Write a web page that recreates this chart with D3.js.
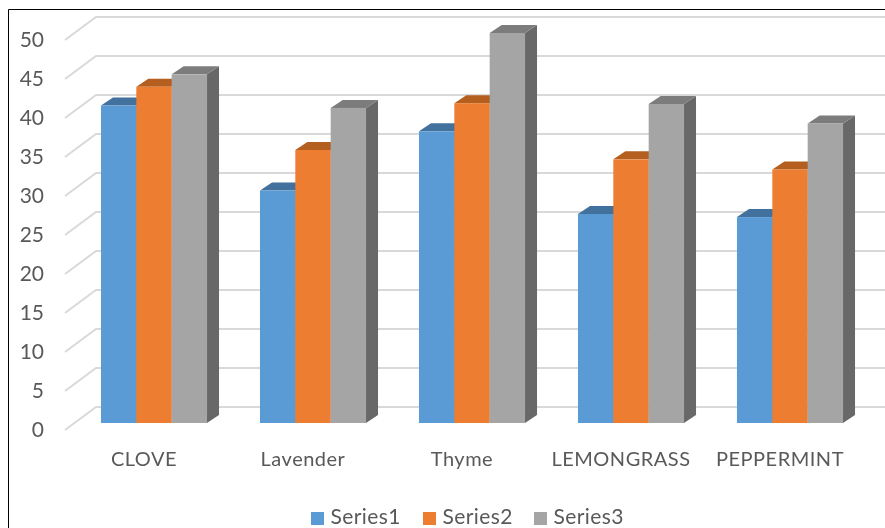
<!DOCTYPE html>
<html>
<head>
<meta charset="utf-8">
<script src="https://cdn.jsdelivr.net/npm/d3@7"></script>
<style>
  html, body { margin: 0; padding: 0; background: #fff; }
  svg { display: block; filter: blur(0.4px); }
  text { font-family: Lato, "Open Sans", sans-serif; fill: #595959; }
</style>
</head>
<body>
<script>
// data
const categories = ['CLOVE', 'Lavender', 'Thyme', 'LEMONGRASS', 'PEPPERMINT']
const seriesNames = ['Series1', 'Series2', 'Series3']
const series1 = [40.7, 29.8, 37.4, 26.8, 26.4]
const series2 = [43.1, 35, 41, 33.8, 32.5]
const series3 = [44.7, 40.4, 50, 40.9, 38.4]
const yTicks = [0, 5, 10, 15, 20, 25, 30, 35, 40, 45, 50]

const seriesValues = [series1, series2, series3]
const frontColors = ['#5b9bd5', '#ed7d31', '#a5a5a5']
const topColors = ['#41719c', '#b45f20', '#7c7c7c']
const sideColors = ['#3a6a94', '#9c5220', '#686868']

const width = 885
const height = 528

const svg = d3.select('body').append('svg')
  .attr('width', width)
  .attr('height', height)

// chart border, only the top and left edges are inside the crop
svg.append('path')
  .attr('d', 'M8.5,528V9.5H885')
  .attr('fill', 'none')
  .attr('stroke', '#000')
  .attr('stroke-width', 1)

// bars stand on y=423, the axis labels sit 7px lower, the back wall 23px higher
const y = d3.scaleLinear().domain([0, 50]).range([423, 33])
const x0 = d3.scaleBand().domain(categories).range([74.5, 869.5]).paddingInner(0.333).paddingOuter(0.1665)
const x1 = d3.scaleBand().domain(seriesNames).range([0, x0.bandwidth()])

const wallFrontX = 65
const wallBackX = 96
const barDx = 12
const barDy = 8

// gridlines: floor edge then along the back wall
svg.append('g')
  .selectAll('path')
  .data(yTicks)
  .enter().append('path')
  .attr('d', d => {
    const front = y(d) + 7
    const back = front - 23
    return 'M' + wallFrontX + ',' + front + 'L' + wallBackX + ',' + back + 'H' + width
  })
  .attr('fill', 'none')
  .attr('stroke', '#d9d9d9')
  .attr('stroke-width', 2)

// value labels
yTicks.forEach(t => {
  svg.append('text')
    .attr('x', 44)
    .attr('y', y(t) + 7)
    .attr('dy', '.35em')
    .attr('text-anchor', 'end')
    .attr('font-size', 21)
    .text(t)
})

// bars
categories.forEach((c, i) => {
  const g = svg.append('g').attr('transform', 'translate(' + x0(c) + ',0)')
  seriesValues.forEach((vals, s) => {
    const l = x1(seriesNames[s])
    const w = x1.bandwidth()
    const t = y(vals[i])
    const b = y(0)
    g.append('polygon')
      .attr('points', [[l + w, t], [l + w + barDx, t - barDy], [l + w + barDx, b - barDy], [l + w, b]].join(' '))
      .attr('fill', sideColors[s])
    g.append('polygon')
      .attr('points', [[l, t], [l + barDx, t - barDy], [l + w + barDx, t - barDy], [l + w, t]].join(' '))
      .attr('fill', topColors[s])
    g.append('rect')
      .attr('x', l)
      .attr('y', t)
      .attr('width', w)
      .attr('height', b - t)
      .attr('fill', frontColors[s])
  })
})

// category labels
categories.forEach(c => {
  svg.append('text')
    .attr('x', x0(c) + x0.bandwidth() / 2 - 10)
    .attr('y', 466)
    .attr('text-anchor', 'middle')
    .attr('font-size', 20)
    .attr('letter-spacing', 0.5)
    .text(c)
})

// legend
const legendX = [311, 423, 534]
seriesNames.forEach((n, i) => {
  svg.append('rect')
    .attr('x', legendX[i])
    .attr('y', 512)
    .attr('width', 13)
    .attr('height', 13)
    .attr('fill', frontColors[i])
  svg.append('text')
    .attr('x', legendX[i] + 19.5)
    .attr('y', 524)
    .attr('font-size', 21)
    .attr('letter-spacing', 0.4)
    .text(n)
})
</script>
</body>
</html>
